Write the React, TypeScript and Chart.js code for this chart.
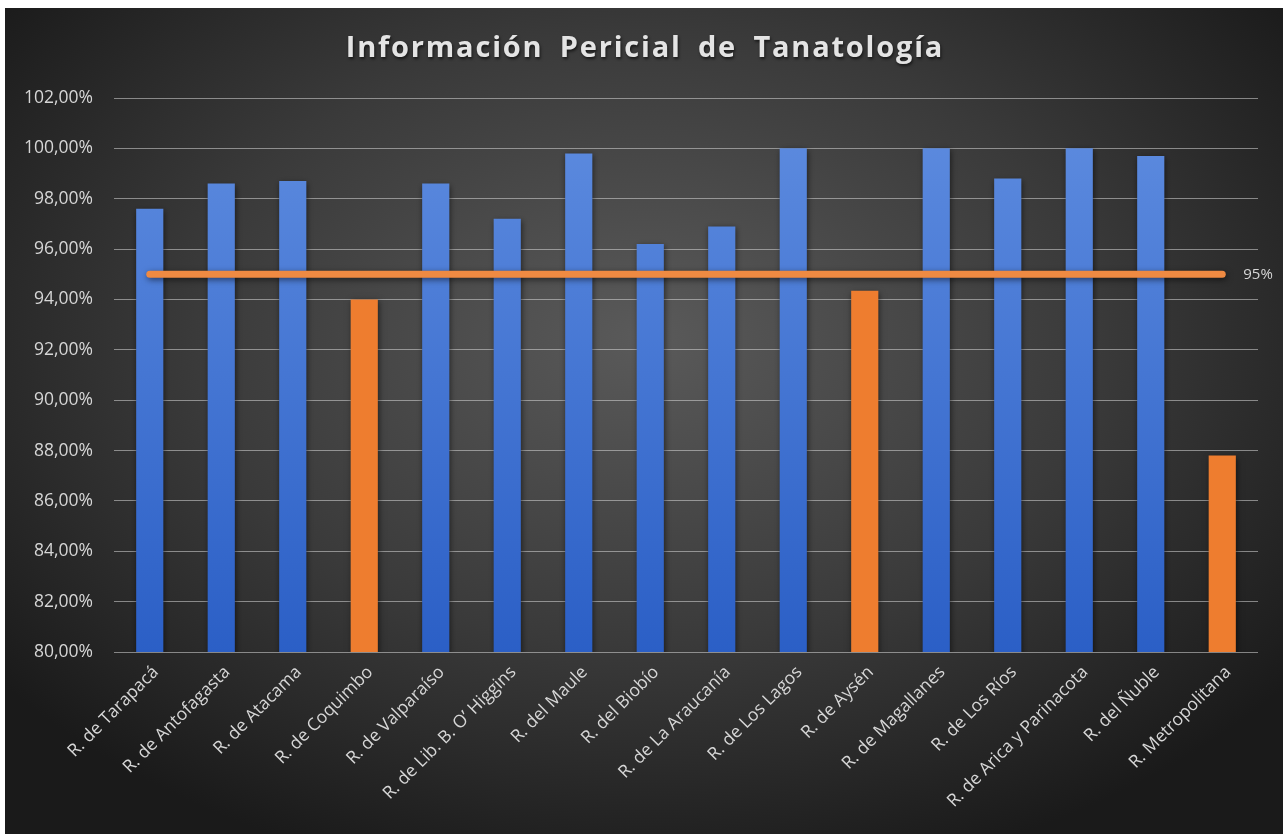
import React, { useEffect, useRef } from "react";
import { Chart, registerables } from "chart.js";

Chart.register(...registerables);

const chartTitle = "Información Pericial de Tanatología";
const categories = [
  "R. de Tarapacá",
  "R. de Antofagasta",
  "R. de Atacama",
  "R. de Coquimbo",
  "R. de Valparaíso",
  "R. de Lib. B. O’ Higgins",
  "R. del Maule",
  "R. del Biobío",
  "R. de La Araucanía",
  "R. de Los Lagos",
  "R. de Aysén",
  "R. de Magallanes",
  "R. de Los Ríos",
  "R. de Arica y Parinacota",
  "R. del Ñuble",
  "R. Metropolitana",
];
const values = [97.6, 98.6, 98.7, 94.0, 98.6, 97.2, 99.8, 96.2, 96.9, 100, 94.35, 100, 98.8, 100, 99.7, 87.8];
const targetValue = 95;
const targetLabel = "95%";
const targetSeries = categories.map(() => targetValue);
const yMin = 80;
const yMax = 102;
const yStep = 2;

const W = 1278;
const H = 826;
const FONT = "'Open Sans', 'DejaVu Sans', sans-serif";
const TEXT = "#d6d6d6";

export default function App() {
  const ref = useRef<HTMLCanvasElement>(null);

  useEffect(() => {
    if (!ref.current) return;

    const bgPlugin = {
      id: "bg",
      beforeDraw(chart: any) {
        const ctx = chart.ctx;
        ctx.save();
        const cx = 640;
        const cy = 330;
        const sy = 0.68;
        ctx.translate(cx, cy);
        ctx.scale(1, sy);
        const g = ctx.createRadialGradient(0, 0, 0, 0, 0, 820);
        g.addColorStop(0, "#5a5a5a");
        g.addColorStop(0.55, "#3a3a3a");
        g.addColorStop(1, "#1a1a1a");
        ctx.fillStyle = g;
        ctx.fillRect(-cx, -cy / sy, W, H / sy);
        ctx.restore();
      },
    };

    const shadowPlugin = {
      id: "shadow",
      beforeDatasetDraw(chart: any) {
        const ctx = chart.ctx;
        ctx.save();
        ctx.shadowColor = "rgba(0,0,0,0.55)";
        ctx.shadowBlur = 6;
        ctx.shadowOffsetX = 1;
        ctx.shadowOffsetY = 2;
      },
      afterDatasetDraw(chart: any) {
        chart.ctx.restore();
      },
    };

    const titlePlugin = {
      id: "titleDraw",
      afterDraw(chart: any) {
        const ctx = chart.ctx;
        ctx.save();
        ctx.font = `bold 29px ${FONT}`;
        (ctx as any).letterSpacing = "1.8px";
        (ctx as any).wordSpacing = "7px";
        ctx.textAlign = "center";
        ctx.textBaseline = "middle";
        ctx.shadowColor = "rgba(0,0,0,0.6)";
        ctx.shadowBlur = 3;
        ctx.shadowOffsetX = 1;
        ctx.shadowOffsetY = 2;
        ctx.fillStyle = "#e4e4e4";
        ctx.fillText(chartTitle, 640, 41);
        ctx.restore();
      },
    };

    const targetLabelPlugin = {
      id: "targetLabel",
      afterDatasetsDraw(chart: any) {
        const meta = chart.getDatasetMeta(0);
        const pts = meta.data;
        if (!pts || !pts.length) return;
        const last = pts[pts.length - 1];
        const ctx = chart.ctx;
        ctx.save();
        ctx.font = `15px ${FONT}`;
        ctx.fillStyle = TEXT;
        ctx.textAlign = "left";
        ctx.textBaseline = "middle";
        ctx.fillText(targetLabel, last.x + 21, last.y);
        ctx.restore();
      },
    };

    const chart = new Chart(ref.current, {
      type: "bar",
      data: {
        labels: categories,
        datasets: [
          {
            type: "line",
            label: "Meta",
            data: targetSeries,
            order: 0,
            borderColor: "#ef8a42",
            borderWidth: 7,
            borderCapStyle: "round",
            pointRadius: 0,
            fill: false,
          } as any,
          {
            type: "bar",
            label: "Cumplimiento",
            data: values,
            order: 1,
            categoryPercentage: 1,
            barPercentage: 0.38,
            backgroundColor: (c: any) => {
              const v = values[c.dataIndex];
              if (v < targetValue) return "#ee7d2f";
              const area = c.chart.chartArea;
              if (!area) return "#4472c4";
              const g = c.chart.ctx.createLinearGradient(0, area.top, 0, area.bottom);
              g.addColorStop(0, "#5f8de0");
              g.addColorStop(1, "#2b5fc6");
              return g;
            },
          } as any,
        ],
      },
      options: {
        responsive: false,
        animation: false,
        devicePixelRatio: 1,
        layout: { padding: { top: 90, right: 25, bottom: 0, left: 0 } },
        plugins: {
          legend: { display: false },
          tooltip: { enabled: false },
          title: { display: false },
        },
        scales: {
          x: {
            grid: { display: false, drawTicks: false },
            border: { display: false },
            ticks: {
              color: TEXT,
              font: { family: FONT, size: 17.5 },
              maxRotation: 45,
              minRotation: 45,
              padding: 10,
              labelOffset: 6,
              autoSkip: false,
            },
            afterFit(s: any) {
              s.height = 182;
            },
          },
          y: {
            min: yMin,
            max: yMax,
            grid: { color: "rgba(215,215,215,0.55)", drawTicks: false, lineWidth: 1 },
            border: { display: false },
            ticks: {
              stepSize: yStep,
              padding: 21,
              color: TEXT,
              font: { family: FONT, size: 17.5 },
              callback: (v: any) => Number(v).toFixed(2).replace(".", ",") + "%",
            },
            afterFit(s: any) {
              s.width = 109;
            },
          },
        },
      } as any,
      plugins: [bgPlugin, shadowPlugin, titlePlugin, targetLabelPlugin],
    });

    return () => chart.destroy();
  }, []);

  return (
    <div style={{ position: "absolute", left: 5, top: 8, width: W, height: H }}>
      <canvas ref={ref} width={W} height={H} style={{ width: W, height: H, display: "block" }} />
    </div>
  );
}
